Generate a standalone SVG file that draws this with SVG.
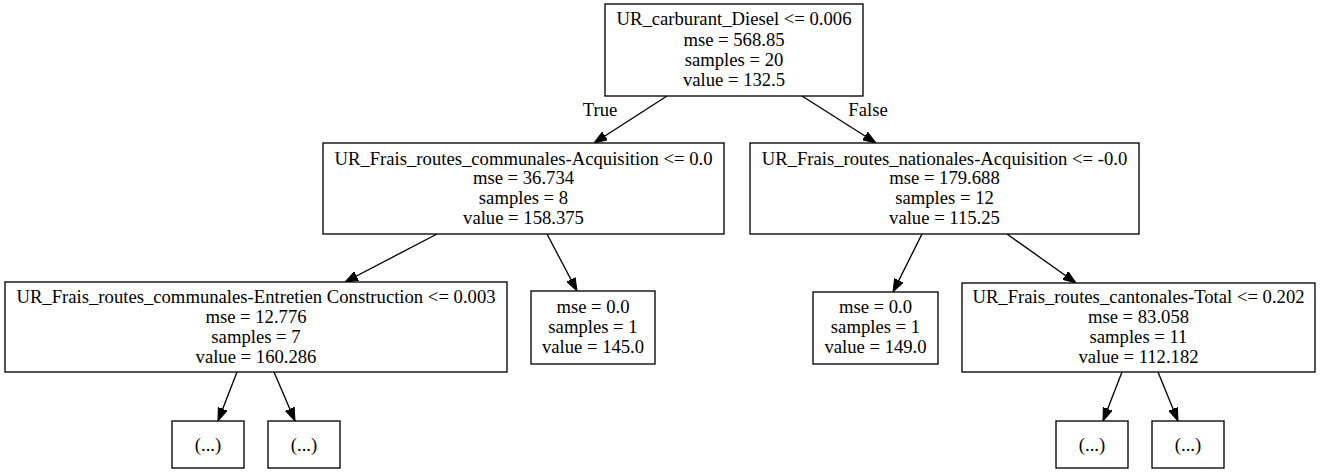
<svg xmlns="http://www.w3.org/2000/svg" width="1323" height="475" viewBox="0 0 1323 475">
<defs>
<marker id="ah" markerUnits="userSpaceOnUse" viewBox="0 0 13 10" refX="13" refY="5" markerWidth="13" markerHeight="10" orient="auto">
<path d="M0,0.3 L13,5 L0,9.7 z" fill="#000" stroke="#000" stroke-width="1"/>
</marker>
<style>
.box{fill:#fff;stroke:#000;stroke-width:1.33}
text{font-family:"Liberation Serif","Times New Roman",serif;font-size:18.67px;fill:#000;text-anchor:middle}
.edge{stroke:#000;stroke-width:1.33;fill:none;marker-end:url(#ah)}
</style>
</defs>
<rect width="1323" height="475" fill="#fff"/>
<g id="connectors">
<line class="edge" x1="667" y1="96" x2="594" y2="143"/>
<line class="edge" x1="802" y1="96" x2="876" y2="143"/>
<line class="edge" x1="437" y1="234" x2="345" y2="282"/>
<line class="edge" x1="547" y1="234" x2="577" y2="291"/>
<line class="edge" x1="922" y1="234" x2="893" y2="292"/>
<line class="edge" x1="1007" y1="234" x2="1076" y2="283"/>
<line class="edge" x1="237" y1="372" x2="218" y2="421"/>
<line class="edge" x1="274" y1="372" x2="295" y2="421"/>
<line class="edge" x1="1122" y1="372" x2="1103" y2="421"/>
<line class="edge" x1="1158" y1="372" x2="1178" y2="421"/>
<text x="600" y="116">True</text>
<text x="868" y="116">False</text>
</g>
<g id="node0">
<rect class="box" x="605" y="4" width="258" height="92"/>
<text x="734" y="25">UR_carburant_Diesel &lt;= 0.006</text>
<text x="734" y="45.5">mse = 568.85</text>
<text x="734" y="65.5">samples = 20</text>
<text x="734" y="85.5">value = 132.5</text>
</g>
<g id="node1">
<rect class="box" x="323" y="143" width="401" height="91"/>
<text x="523.5" y="164.5">UR_Frais_routes_communales-Acquisition &lt;= 0.0</text>
<text x="523.5" y="184">mse = 36.734</text>
<text x="523.5" y="204">samples = 8</text>
<text x="523.5" y="223.5">value = 158.375</text>
</g>
<g id="node2">
<rect class="box" x="750" y="143" width="389" height="91"/>
<text x="944.5" y="164.5">UR_Frais_routes_nationales-Acquisition &lt;= -0.0</text>
<text x="944.5" y="184">mse = 179.688</text>
<text x="944.5" y="204">samples = 12</text>
<text x="944.5" y="223.5">value = 115.25</text>
</g>
<g id="node3">
<rect class="box" x="5" y="282" width="502" height="90"/>
<text x="256" y="303">UR_Frais_routes_communales-Entretien Construction &lt;= 0.003</text>
<text x="256" y="323">mse = 12.776</text>
<text x="256" y="343">samples = 7</text>
<text x="256" y="362.5">value = 160.286</text>
</g>
<g id="node4">
<rect class="box" x="531" y="291" width="124" height="73"/>
<text x="593" y="313">mse = 0.0</text>
<text x="593" y="333">samples = 1</text>
<text x="593" y="353">value = 145.0</text>
</g>
<g id="node5">
<rect class="box" x="813" y="292" width="125" height="72"/>
<text x="875.5" y="313">mse = 0.0</text>
<text x="875.5" y="333">samples = 1</text>
<text x="875.5" y="353">value = 149.0</text>
</g>
<g id="node6">
<rect class="box" x="962" y="283" width="353" height="89"/>
<text x="1138.5" y="303">UR_Frais_routes_cantonales-Total &lt;= 0.202</text>
<text x="1138.5" y="323">mse = 83.058</text>
<text x="1138.5" y="343">samples = 11</text>
<text x="1138.5" y="362.5">value = 112.182</text>
</g>
<g id="node7">
<rect class="box" x="172" y="421" width="72" height="47"/>
<text x="208" y="451">(...)</text>
</g>
<g id="node8">
<rect class="box" x="268" y="421" width="72" height="47"/>
<text x="304" y="451">(...)</text>
</g>
<g id="node9">
<rect class="box" x="1056" y="421" width="72" height="47"/>
<text x="1092" y="451">(...)</text>
</g>
<g id="node10">
<rect class="box" x="1152" y="421" width="72" height="47"/>
<text x="1188" y="451">(...)</text>
</g>
</svg>
